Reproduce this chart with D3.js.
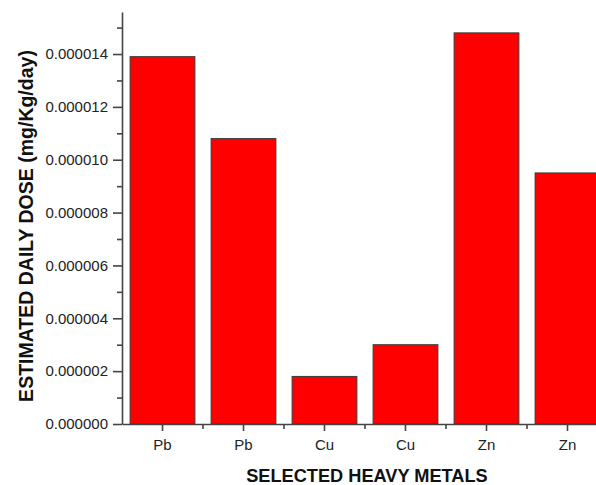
<!DOCTYPE html>
<html>
<head>
<meta charset="utf-8">
<script src="https://cdn.jsdelivr.net/npm/d3@7"></script>
<style>
  html, body { margin: 0; padding: 0; background: #fff; }
  svg { display: block; }
  text { font-family: Arial, "Liberation Sans", sans-serif; }
</style>
</head>
<body>
<script>
// Estimated daily dose of selected heavy metals
const categories = ["Pb", "Pb", "Cu", "Cu", "Zn", "Zn"];
const doses = [1.39e-5, 1.08e-5, 1.8e-6, 3.0e-6, 1.48e-5, 9.5e-6];
const yTicks = [0, 2e-6, 4e-6, 6e-6, 8e-6, 1e-5, 1.2e-5, 1.4e-5];
const yMinorTicks = [1e-6, 3e-6, 5e-6, 7e-6, 9e-6, 1.1e-5, 1.3e-5, 1.5e-5];
const xTitle = "SELECTED HEAVY METALS";
const yTitle = "ESTIMATED DAILY DOSE (mg/Kg/day)";

const W = 596, H = 485;
const plotLeft = 122, plotTop = 12, plotBottom = 424, plotRight = 608;

const svg = d3.select("body").append("svg")
  .attr("width", W).attr("height", H);

const x = d3.scaleBand()
  .domain(d3.range(categories.length))
  .range([plotLeft, plotRight])
  .paddingInner(0.2).paddingOuter(0.1);

const y = d3.scaleLinear()
  .domain([0, 1.559e-5])
  .range([plotBottom, plotTop]);

// bars
svg.append("g").selectAll("rect")
  .data(doses)
  .join("rect")
  .attr("x", (d, i) => x(i))
  .attr("y", d => y(d))
  .attr("width", x.bandwidth())
  .attr("height", d => y(0) - y(d))
  .attr("fill", "#ff0000")
  .attr("stroke", "#3a3a3a")
  .attr("stroke-width", 1);

const axisColor = "#444";
const tickFont = "15px";

// y axis: major ticks with labels
const yAxis = svg.append("g")
  .attr("transform", `translate(${plotLeft},0)`)
  .call(d3.axisLeft(y).tickValues(yTicks).tickSize(9).tickPadding(5)
    .tickFormat(d => d.toFixed(6)).tickSizeOuter(0));
yAxis.attr("font-size", null).attr("font-family", null);
yAxis.select(".domain").attr("stroke", axisColor).attr("stroke-width", 1.6);
yAxis.selectAll(".tick line").attr("stroke", axisColor).attr("stroke-width", 1.6);
yAxis.selectAll(".tick text")
  .attr("fill", "#222").style("font-size", tickFont);

// y axis minor ticks
svg.append("g")
  .attr("transform", `translate(${plotLeft},0)`)
  .call(d3.axisLeft(y).tickValues(yMinorTicks).tickSize(5).tickFormat("").tickSizeOuter(0))
  .call(g => g.select(".domain").remove())
  .selectAll(".tick line").attr("stroke", axisColor).attr("stroke-width", 1.6);

// x axis: ticks at category centres
const xAxis = svg.append("g")
  .attr("transform", `translate(0,${plotBottom})`)
  .call(d3.axisBottom(x).tickFormat(i => categories[i]).tickSize(7).tickPadding(8).tickSizeOuter(0));
xAxis.attr("font-size", null).attr("font-family", null);
xAxis.select(".domain").attr("stroke", axisColor).attr("stroke-width", 1.6);
xAxis.selectAll(".tick line").attr("stroke", axisColor).attr("stroke-width", 1.6);
xAxis.selectAll(".tick text")
  .attr("fill", "#222").style("font-size", tickFont);

// x axis minor ticks between categories
const step = x.step();
const boundaries = d3.range(1, categories.length).map(i => x(i) + x.bandwidth() / 2 - step / 2);
svg.append("g").selectAll("line")
  .data(boundaries)
  .join("line")
  .attr("x1", d => d).attr("x2", d => d)
  .attr("y1", plotBottom).attr("y2", plotBottom + 5)
  .attr("stroke", axisColor).attr("stroke-width", 1.6);

// axis titles
svg.append("text")
  .attr("x", 367).attr("y", 482)
  .attr("text-anchor", "middle")
  .attr("font-weight", "bold")
  .style("font-size", "18.2px")
  .attr("fill", "#111")
  .text(xTitle);

svg.append("text")
  .attr("transform", "translate(33,226) rotate(-90)")
  .attr("text-anchor", "middle")
  .attr("font-weight", "bold")
  .style("font-size", "19.5px")
  .attr("fill", "#111")
  .text(yTitle);
</script>
</body>
</html>
